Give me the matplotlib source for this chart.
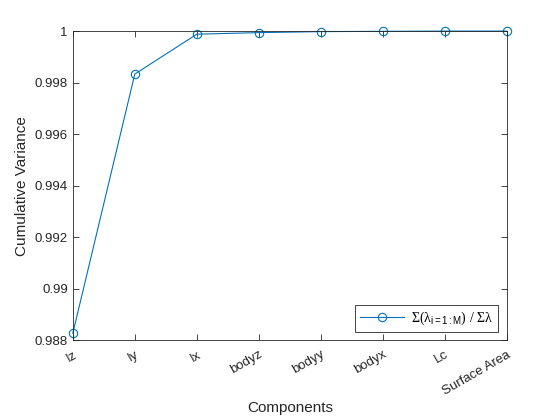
import matplotlib
matplotlib.use('Agg')
import matplotlib.pyplot as plt

components = ['Iz', 'Iy', 'Ix', 'bodyz', 'bodyy', 'bodyx', 'Lc', 'Surface Area']
cum_var = [0.98827, 0.99833, 0.99988, 0.99994, 0.99998, 0.99999, 1.0, 1.0]
yticks = [0.988, 0.990, 0.992, 0.994, 0.996, 0.998, 1.0]
ytick_labels = ['0.988', '0.99', '0.992', '0.994', '0.996', '0.998', '1']

plt.rcParams['font.family'] = ['Liberation Sans', 'DejaVu Sans']
plt.rcParams['mathtext.fontset'] = 'custom'
plt.rcParams['mathtext.rm'] = 'Liberation Serif'
plt.rcParams['mathtext.it'] = 'Liberation Serif'
plt.rcParams['mathtext.sf'] = 'Liberation Sans'
plt.rcParams['mathtext.default'] = 'rm'

fig = plt.figure(figsize=(5.6, 4.2), dpi=100)
ax = fig.add_axes([0.130, 0.190, 0.775, 0.736])

x = list(range(1, len(components) + 1))
ax.plot(x, cum_var, color='#0072bd', linewidth=0.8, marker='o', markersize=6,
        markerfacecolor='none', markeredgewidth=0.8, clip_on=False,
        label=r'$\Sigma(\lambda_{\mathsf{i=1:M}})\ /\ \Sigma\lambda$')

ax.set_xlim(1, 8)
ax.set_ylim(0.988, 1.0)
ax.set_xticks(x)
ax.set_xticklabels(components, rotation=30, fontsize=9.5, color='#262626',
                   ha='right', va='top', rotation_mode='anchor')
ax.set_yticks(yticks)
ax.set_yticklabels(ytick_labels, fontsize=9.5, color='#262626')
ax.tick_params(direction='in', top=True, right=True, length=4, width=0.6, colors='#262626')
ax.tick_params(axis='x', pad=6)
for s in ax.spines.values():
    s.set_linewidth(0.6)
    s.set_color('#262626')

ax.set_xlabel('Components', fontsize=11, color='#262626', labelpad=3)
ax.set_ylabel('Cumulative Variance', fontsize=11, color='#262626')

leg = ax.legend(loc='lower right', fancybox=False, edgecolor='#262626',
                framealpha=1, fontsize=10, handlelength=3.2, borderpad=0.35,
                handletextpad=0.5, borderaxespad=0.6)
leg.get_frame().set_linewidth(0.6)

fig.savefig('out.png', dpi=100)
